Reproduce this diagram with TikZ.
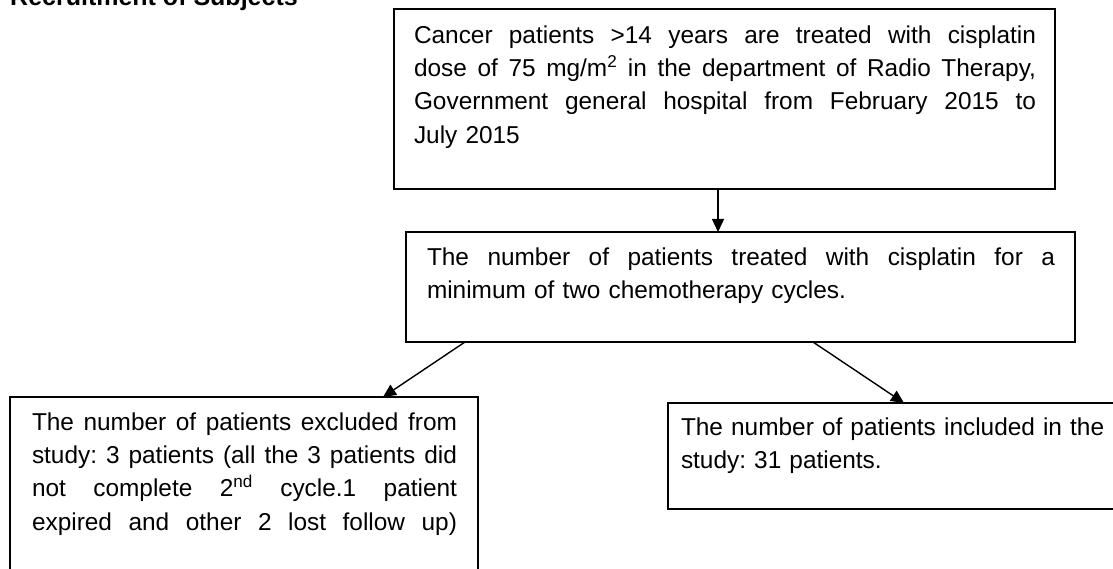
\documentclass[tikz,border=0pt]{standalone}
\usepackage{fontspec}
\setmainfont{Liberation Sans}
\usetikzlibrary{arrows.meta}
\tikzset{
  boxshape/.style={draw=black, line width=1.4pt, rectangle, inner sep=0pt, outer sep=0pt, anchor=north west},
  bodytext/.style={inner sep=0pt, outer sep=0pt, anchor=north west, align=left, font=\fontsize{24.4}{33.4}\selectfont\frenchspacing},
  conn/.style={line width=1.4pt, -{Triangle[length=13pt,width=12pt]}}
}
\newcommand{\jl}[2]{\hbox to #1{\spaceskip=0.278em plus 1fil\relax\strut #2}}
\begin{document}
\begin{tikzpicture}[x=1pt,y=-1pt]
\useasboundingbox (0,0) rectangle (1113,569);
\node[inner sep=0pt, anchor=base west, font=\fontsize{25}{30}\selectfont\bfseries] (title) at (10,6) {Recruitment of Subjects};
% boxes
\node[boxshape, minimum width=661pt, minimum height=180pt] (b1) at (394,9) {};
\node[boxshape, minimum width=669pt, minimum height=110pt] (b2) at (406,232) {};
\node[boxshape, minimum width=468pt, minimum height=220pt] (b3) at (10,397) {};
\node[boxshape, minimum width=470pt, minimum height=106pt] (b4) at (668,403) {};
% texts
\node[bodytext, text width=622pt] (t1) at (414,19.7) {\jl{622pt}{Cancer patients >14 years are treated with cisplatin}
\jl{622pt}{dose of 75 mg/m\textsuperscript{2} in the department of Radio Therapy,}
\jl{622pt}{Government general hospital from February 2015 to}
\hbox{\strut July 2015}};
\node[bodytext, text width=628pt] (t2) at (427,241.7) {\jl{628pt}{The number of patients treated with cisplatin for a}
\hbox{\strut minimum of two chemotherapy cycles.}};
\node[bodytext, text width=425pt] (t3) at (32,406.7) {\jl{425pt}{The number of patients excluded from}
\jl{425pt}{study: 3 patients (all the 3 patients did}
\jl{425pt}{not complete 2\textsuperscript{nd} cycle.1 patient}
\jl{425pt}{expired and other 2 lost follow up)}};
\node[bodytext, text width=430pt] (t4) at (681,411.7) {\hbox{\strut The number of patients included in the}
\hbox{\strut study: 31 patients.}};
% connectors
\draw[conn] ([xshift=-6.5pt]b1.south) -- ([xshift=-22.5pt]b2.north);
\draw[conn] ([xshift=-275.5pt]b2.south) -- ([xshift=139pt]b3.north);
\draw[conn] ([xshift=72.5pt]b2.south) -- ([xshift=1pt]b4.north);
\end{tikzpicture}
\end{document}
